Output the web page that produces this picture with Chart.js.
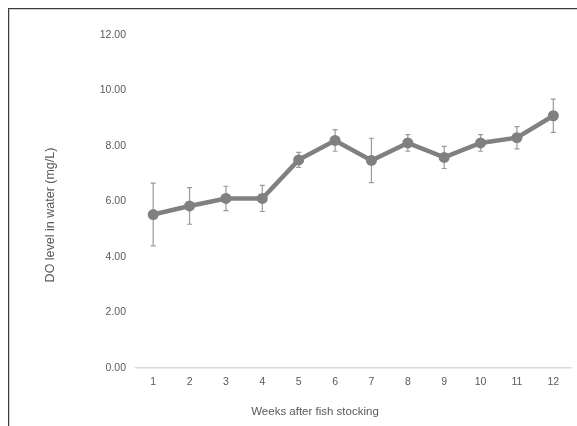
<!DOCTYPE html>
<html>
<head>
<meta charset="utf-8">
<script src="https://cdn.jsdelivr.net/npm/chart.js@4/dist/chart.umd.min.js"></script>
<style>
  html, body { margin: 0; padding: 0; background: #fff; }
  #wrap { position: relative; width: 577px; height: 426px; overflow: hidden; }
  #frame { position: absolute; left: 8px; top: 8px; width: 700px; height: 600px;
           border-top: 1.5px solid #3c3c3c; border-left: 1.5px solid #3c3c3c;
           box-shadow: inset 1px 1px 0 #d0d0d0; }
  canvas { position: absolute; left: 0; top: 0; }
</style>
</head>
<body>
<div id="wrap">
  <div id="frame"></div>
  <canvas id="c" width="577" height="426"></canvas>
</div>
<script>
const weeks = ['1','2','3','4','5','6','7','8','9','10','11','12'];
const doLevel = [5.53, 5.84, 6.11, 6.11, 7.50, 8.20, 7.48, 8.11, 7.59, 8.11, 8.30, 9.09];
const doError = [1.13, 0.66, 0.44, 0.47, 0.27, 0.39, 0.80, 0.30, 0.40, 0.30, 0.40, 0.60];
const yTicks = [0, 2, 4, 6, 8, 10, 12];
const xTitle = 'Weeks after fish stocking';
const yTitle = 'DO level in water (mg/L)';

const errorBars = {
  id: 'errorBars',
  beforeDatasetsDraw(chart) {
    const ctx = chart.ctx;
    const meta = chart.getDatasetMeta(0);
    const ys = chart.scales.y;
    ctx.save();
    ctx.strokeStyle = '#9a9a9a';
    ctx.lineWidth = 1.2;
    meta.data.forEach((pt, i) => {
      const v = doLevel[i], e = doError[i];
      const yTop = ys.getPixelForValue(v + e);
      const yBot = ys.getPixelForValue(v - e);
      const x = pt.x;
      ctx.beginPath();
      ctx.moveTo(x, yTop); ctx.lineTo(x, yBot);
      ctx.moveTo(x - 2.5, yTop); ctx.lineTo(x + 2.5, yTop);
      ctx.moveTo(x - 2.5, yBot); ctx.lineTo(x + 2.5, yBot);
      ctx.stroke();
    });
    ctx.restore();
  }
};

const axisTitles = {
  id: 'axisTitles',
  afterDraw(chart) {
    const ctx = chart.ctx;
    const a = chart.chartArea;
    ctx.save();
    ctx.fillStyle = '#595959';
    ctx.textAlign = 'center';
    ctx.textBaseline = 'middle';
    ctx.font = '11.5px "Liberation Sans", Arial, sans-serif';
    ctx.fillText(xTitle, a.left + 180, 412);
    ctx.translate(51, a.top + 180);
    ctx.rotate(-Math.PI / 2);
    ctx.font = '12.5px "Liberation Sans", Arial, sans-serif';
    ctx.fillText(yTitle, 0, 0);
    ctx.restore();
  }
};

new Chart(document.getElementById('c'), {
  type: 'line',
  data: {
    labels: weeks,
    datasets: [{
      data: doLevel,
      borderColor: '#808080',
      backgroundColor: '#808080',
      borderWidth: 4.5,
      pointRadius: 5.5,
      pointHoverRadius: 5.5,
      pointBackgroundColor: '#808080',
      pointBorderWidth: 0,
      tension: 0
    }]
  },
  options: {
    responsive: false,
    animation: false,
    devicePixelRatio: 1,
    layout: { padding: { left: 0, top: 35, right: 5, bottom: 0 } },
    plugins: { legend: { display: false }, tooltip: { enabled: false } },
    scales: {
      x: {
        offset: true,
        grid: { display: false, drawTicks: false },
        border: { display: false },
        ticks: { color: '#595959', font: { family: '"Liberation Sans", Arial, sans-serif', size: 10.5 }, padding: 8, maxRotation: 0 },
        afterFit: s => { s.height = 58; }
      },
      y: {
        min: 0, max: 12,
        afterBuildTicks: s => { s.ticks = yTicks.map(v => ({ value: v })); },
        grid: {
          drawTicks: false,
          lineWidth: 1.5,
          color: c => (c.tick && c.tick.value === 0) ? '#d9d9d9' : 'rgba(0,0,0,0)'
        },
        border: { display: false },
        ticks: {
          color: '#595959',
          font: { family: '"Liberation Sans", Arial, sans-serif', size: 10.5 },
          padding: 9,
          callback: v => Number(v).toFixed(2)
        },
        afterFit: s => { s.width = 135; }
      }
    }
  },
  plugins: [errorBars, axisTitles]
});
</script>
</body>
</html>
